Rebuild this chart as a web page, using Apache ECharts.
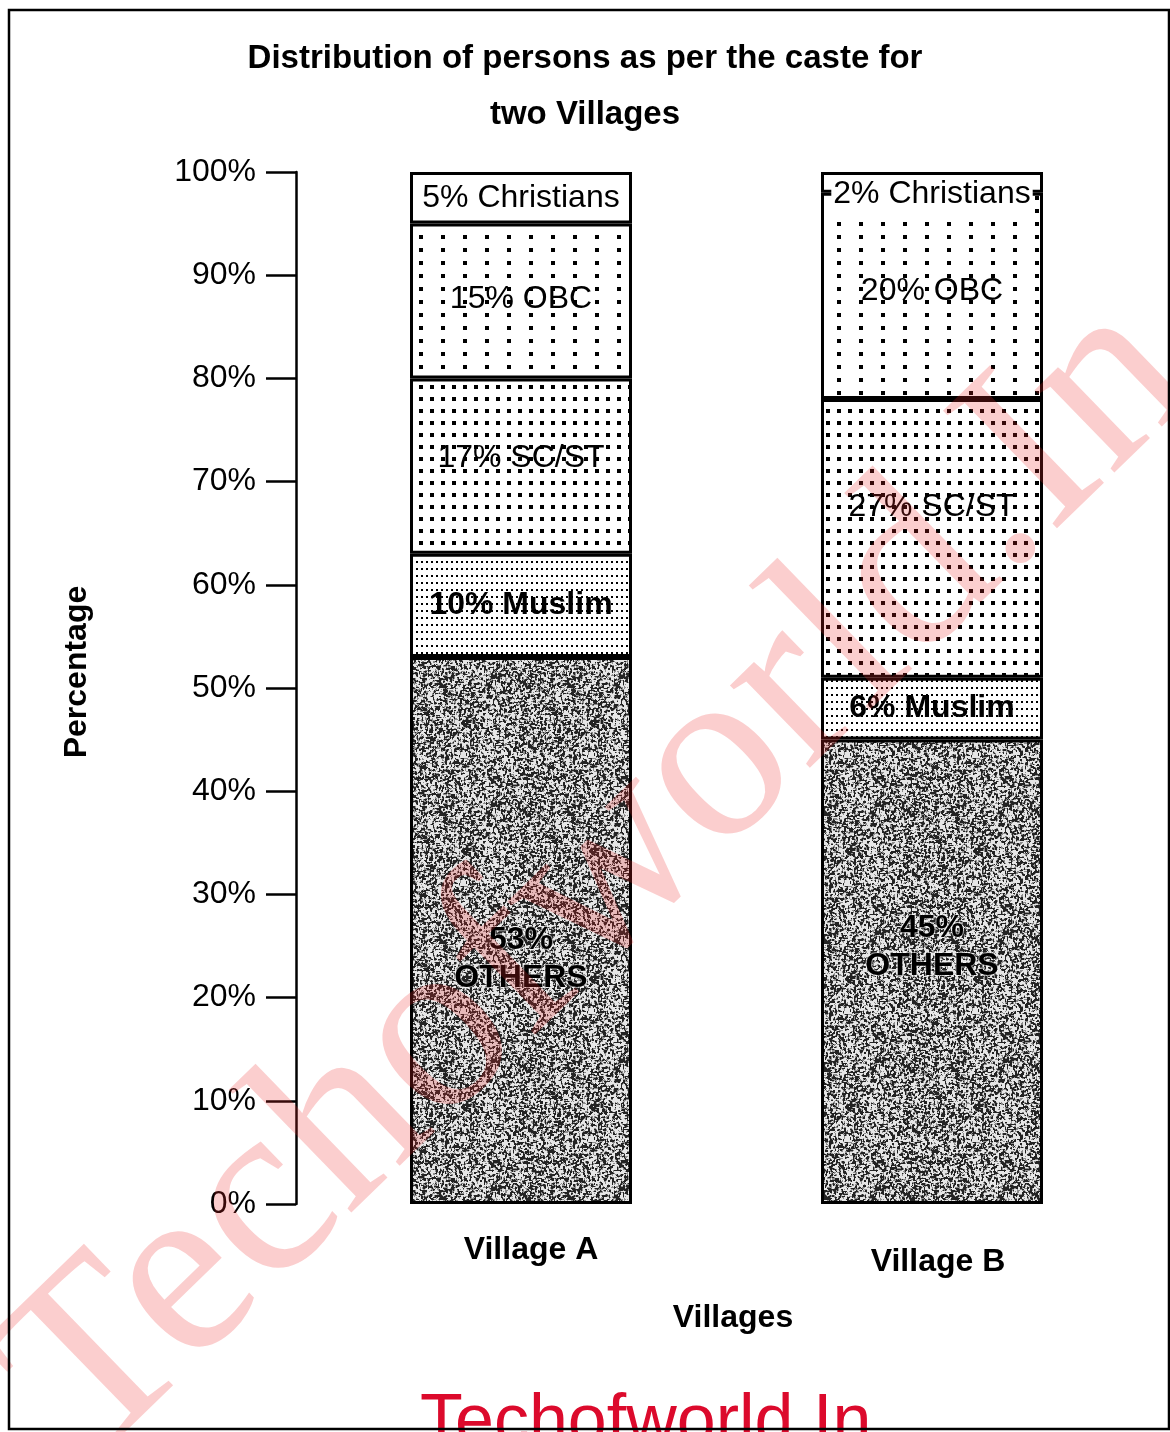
<!DOCTYPE html>
<html>
<head>
<meta charset="utf-8">
<script src="https://cdn.jsdelivr.net/npm/echarts@6/dist/echarts.min.js"></script>
<style>
html,body{margin:0;padding:0;background:#fff;}
#chart{width:1170px;height:1432px;}
</style>
</head>
<body>
<div id="chart"></div>
<script>
// ---- data ----
const categories = ['Village A', 'Village B'];
const others = [53, 45];
const muslim = [10, 6];
const scst = [17, 27];
const obc = [15, 20];
const christians = [5, 2];
const segmentNames = ['OTHERS', 'Muslim', 'SC/ST', 'OBC', 'Christians'];
const yTickValues = [0, 10, 20, 30, 40, 50, 60, 70, 80, 90, 100];

// ---- patterns (styling) ----
function dotPattern(w, h, dw, dh) {
  const c = document.createElement('canvas');
  c.width = w; c.height = h;
  const g = c.getContext('2d');
  g.fillStyle = '#fff'; g.fillRect(0, 0, w, h);
  g.fillStyle = '#000'; g.fillRect(1, 1, dw, dh);
  return c;
}
function noisePattern(size) {
  const c = document.createElement('canvas');
  c.width = size; c.height = size;
  const g = c.getContext('2d');
  const raw = [];
  for (let y = 0; y < size; y++) for (let x = 0; x < size; x++) {
    const v = Math.sin(x * 12.9898 + y * 78.233) * 43758.5453;
    raw.push(v - Math.floor(v));
  }
  const img = g.createImageData(size, size);
  const at = (x, y) => raw[((y + size) % size) * size + ((x + size) % size)];
  for (let y = 0; y < size; y++) for (let x = 0; x < size; x++) {
    const s = (at(x, y) * 2 + at(x + 1, y) + at(x - 1, y) + at(x, y + 1) + at(x, y - 1)) / 6;
    const val = s > 0.55 ? 35 : (s > 0.47 ? 140 : 230);
    const i = (y * size + x) * 4;
    img.data[i] = img.data[i + 1] = img.data[i + 2] = val;
    img.data[i + 3] = 255;
  }
  g.putImageData(img, 0, 0);
  return c;
}

const FONT = 'Liberation Sans, Arial, sans-serif';
const fills = [
  { image: noisePattern(128), repeat: 'repeat' },
  { image: dotPattern(5, 7, 2, 2), repeat: 'repeat' },
  { image: dotPattern(11, 12, 4, 4), repeat: 'repeat' },
  { image: dotPattern(22, 13, 4, 4), repeat: 'repeat' },
  '#ffffff'
];
const labelWeights = ['bold', 'bold', 'normal', 'normal', 'normal'];
const labelOffsets = [[[0, 29], [0, -25]], [[0, 0], [0, 0]], [[0, -8], [0, -31]], [[0, -2], [0, -5]], [[0, 0], [0, 12]]];
const seriesValues = [others, muslim, scst, obc, christians];

const series = seriesValues.map((vals, si) => ({
  name: segmentNames[si],
  type: 'bar',
  stack: 'total',
  barWidth: 222,
  data: vals.map((v, ci) => ({
    value: v,
    label: { offset: labelOffsets[si][ci] }
  })),
  itemStyle: { color: fills[si], borderColor: '#000', borderWidth: 3 },
  label: {
    show: true,
    position: 'inside',
    color: '#000',
    fontFamily: FONT,
    fontSize: 32,
    fontWeight: labelWeights[si],
    lineHeight: 38,
    backgroundColor: si === 4 ? '#ffffff' : 'transparent',
    padding: si === 4 ? [0, 2] : 0,
    textBorderColor: si === 0 ? 'rgba(255,255,255,0.55)' : 'transparent',
    textBorderWidth: si === 0 ? 2 : 0,
    formatter: p => si === 0 ? p.value + '%\n' + segmentNames[si] : p.value + '% ' + segmentNames[si]
  },
  emphasis: { disabled: true },
  z: 2
}));

const chart = echarts.init(document.getElementById('chart'), null, { renderer: 'canvas' });
chart.setOption({
  animation: false,
  backgroundColor: '#fff',
  title: {
    text: 'Distribution of persons as per the caste for\ntwo Villages',
    left: 'center',
    top: 26,
    textStyle: { fontFamily: FONT, fontSize: 33, fontWeight: 'bold', color: '#000', lineHeight: 56 }
  },
  grid: { left: 315.5, width: 822, top: 172, bottom: 228 },
  xAxis: {
    type: 'category',
    data: [
      { value: categories[0], textStyle: { padding: [0, 0, 0, 20] } },
      { value: categories[1], textStyle: { padding: [12, 0, 0, 12] } }
    ],
    axisLine: { show: false },
    axisTick: { show: false },
    axisLabel: { margin: 30, color: '#000', fontFamily: FONT, fontSize: 32, fontWeight: 'bold' },
    name: 'Villages',
    nameLocation: 'middle',
    nameGap: 98,
    nameTextStyle: { color: '#000', fontFamily: FONT, fontSize: 32, fontWeight: 'bold', padding: [0, 0, 0, 13] }
  },
  yAxis: {
    type: 'value',
    min: 0,
    max: 100,
    interval: 10,
    offset: 19.5,
    axisLine: { show: true, lineStyle: { color: '#000', width: 2.5 } },
    axisTick: { show: true, length: 30, lineStyle: { color: '#000', width: 2.5 } },
    axisLabel: {
      margin: 40, color: '#000', fontFamily: FONT, fontSize: 32,
      formatter: v => yTickValues.indexOf(v) >= 0 ? v + '%' : ''
    },
    splitLine: { show: false },
    name: 'Percentage',
    nameLocation: 'middle',
    nameGap: 203,
    nameRotate: 90,
    nameTextStyle: { color: '#000', fontFamily: FONT, fontSize: 32, fontWeight: 'bold', padding: [0, 0, 0, 32] }
  },
  series: series,
  graphic: [
    {
      type: 'rect', z: 100, silent: true,
      shape: { x: 9, y: 10, width: 1160, height: 1419 },
      style: { fill: 'none', stroke: '#000', lineWidth: 2.5 }
    },
    {
      type: 'text', z: 90, silent: true,
      x: 600, y: 880, rotation: 0.77,
      style: {
        text: 'Techofworld.In',
        font: '250px "Liberation Serif", "Times New Roman", serif',
        fill: 'rgba(238,45,45,0.23)',
        align: 'center', verticalAlign: 'middle'
      }
    },
    {
      type: 'text', z: 90, silent: true,
      x: 420, y: 1424,
      style: {
        text: 'Techofworld.In',
        font: '70px "Liberation Sans", Arial, sans-serif',
        fill: '#dc0a2c',
        align: 'left', verticalAlign: 'middle'
      }
    }
  ]
});
</script>
</body>
</html>
